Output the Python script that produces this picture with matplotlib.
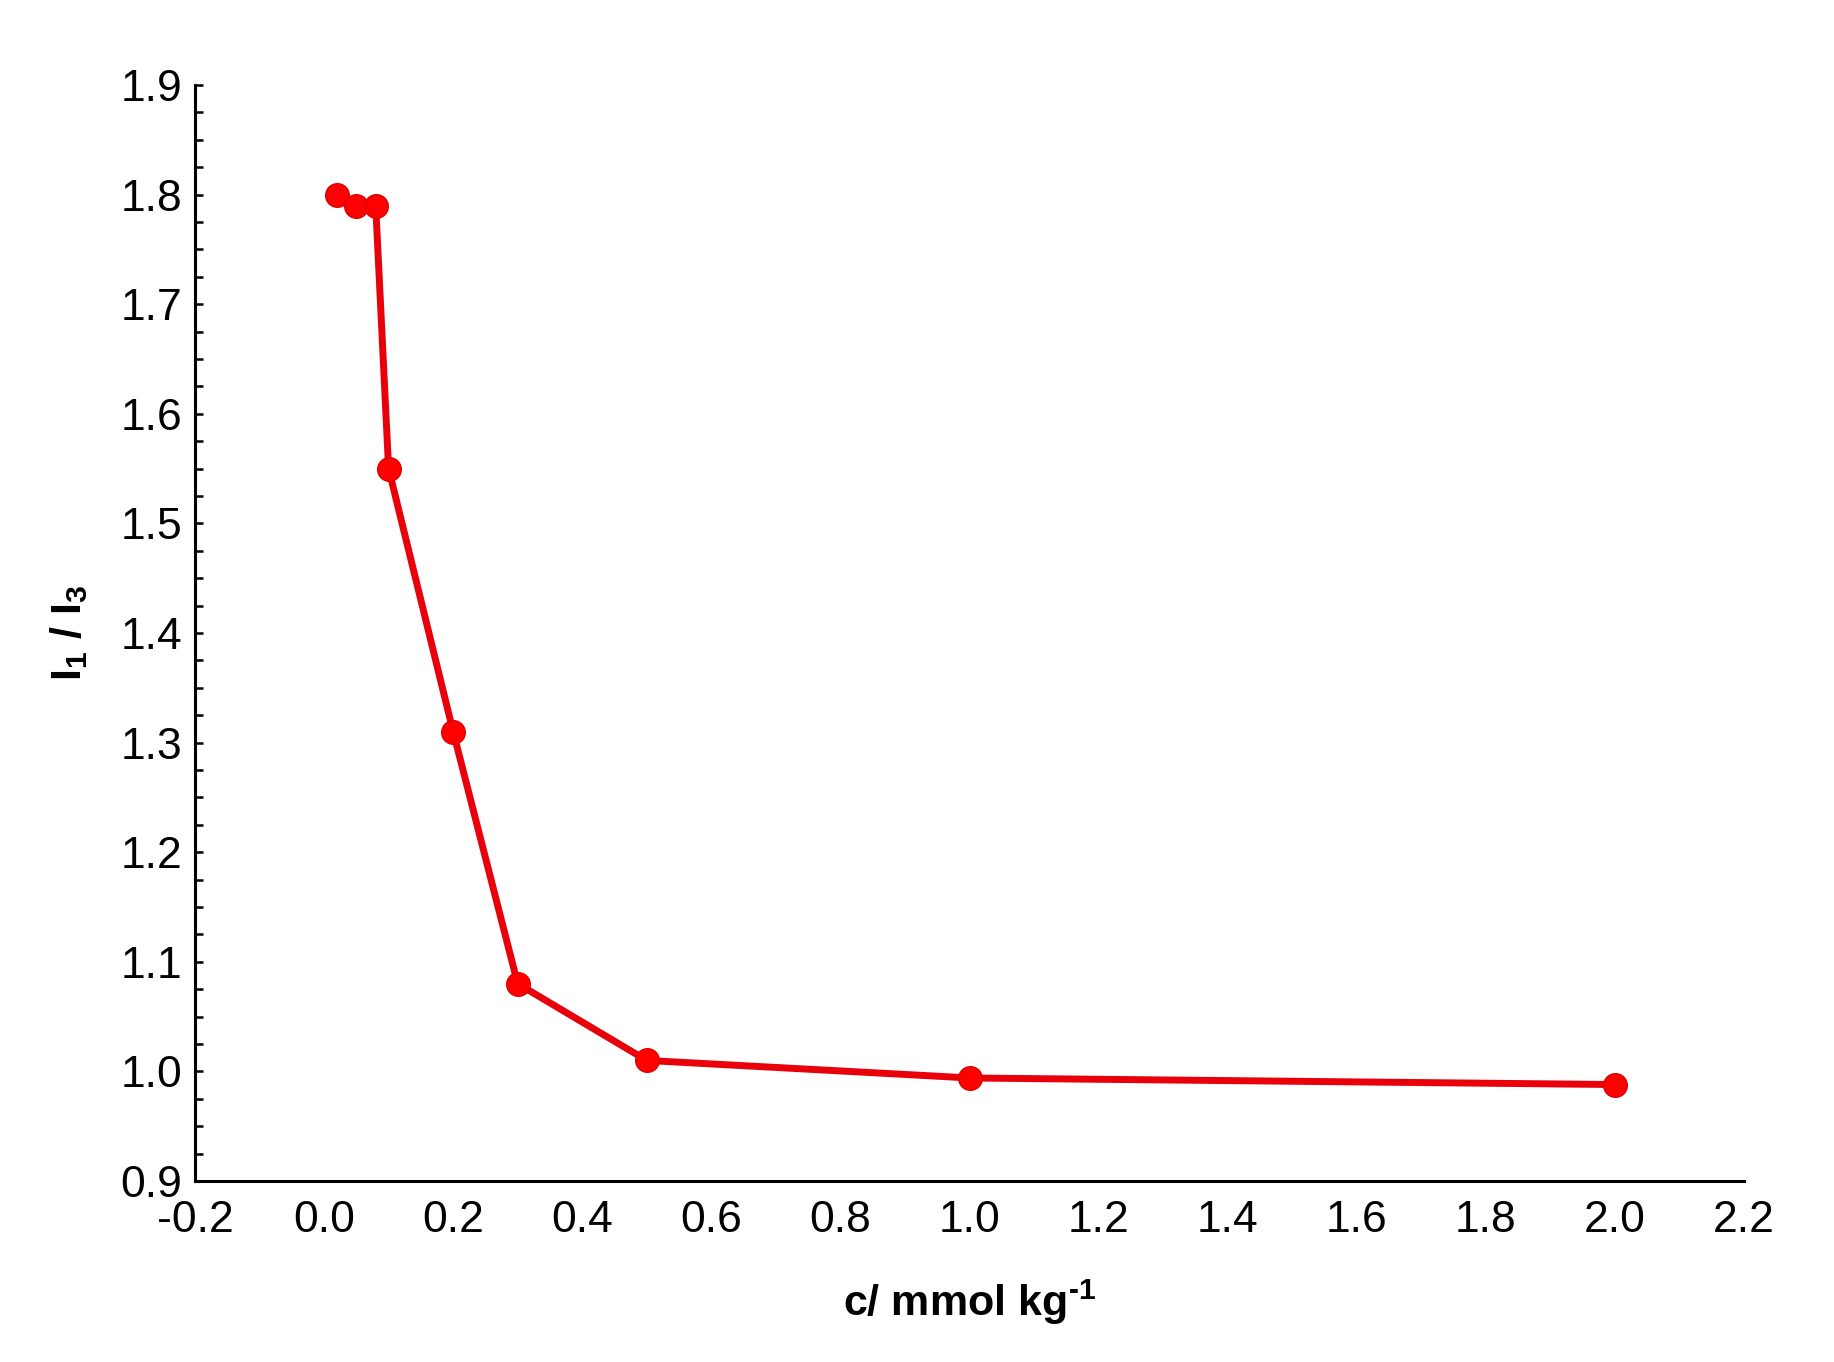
import matplotlib
matplotlib.use("Agg")
import matplotlib.pyplot as plt
import numpy as np

plt.rcParams['font.family'] = ['Liberation Sans', 'DejaVu Sans']
plt.rcParams['mathtext.fontset'] = 'custom'
plt.rcParams['mathtext.rm'] = 'Liberation Sans'
plt.rcParams['mathtext.bf'] = 'Liberation Sans:bold'
plt.rcParams['mathtext.it'] = 'Liberation Sans:italic'
plt.rcParams['axes.unicode_minus'] = False

conc = [0.02, 0.05, 0.08, 0.10, 0.20, 0.30, 0.50, 1.00, 2.00]
ratio = [1.80, 1.79, 1.79, 1.55, 1.31, 1.08, 1.01, 0.994, 0.988]
xticks = [-0.2, 0.0, 0.2, 0.4, 0.6, 0.8, 1.0, 1.2, 1.4, 1.6, 1.8, 2.0, 2.2]
yticks = [0.9, 1.0, 1.1, 1.2, 1.3, 1.4, 1.5, 1.6, 1.7, 1.8, 1.9]

fig = plt.figure(figsize=(18.34, 13.62), dpi=100)
ax = fig.add_axes([0.1063, 0.1329, 0.951 - 0.1063, 0.9376 - 0.1329])

ax.plot(conc, ratio, color='#e8000b', lw=5, marker='o', markersize=17,
        markerfacecolor='#ff0000', markeredgecolor='#e00000', markeredgewidth=1)

ax.set_xlim(-0.2, 2.2)
ax.set_ylim(0.9, 1.9)
ax.set_xticks(xticks)
ax.set_xticklabels([f"{v:.1f}" for v in xticks])
ax.set_yticks(yticks)
ax.set_yticklabels([f"{v:.1f}" for v in yticks])
ax.set_yticks(np.arange(0.9, 1.9001, 0.025), minor=True)

for s in ['top', 'right']:
    ax.spines[s].set_visible(False)
for s in ['left', 'bottom']:
    ax.spines[s].set_linewidth(2.2)
    ax.spines[s].set_color('black')

ax.tick_params(axis='x', which='both', length=0, labelsize=32, pad=14)
ax.tick_params(axis='y', which='major', direction='in', length=6, width=1.8,
               labelsize=32, pad=9)
ax.tick_params(axis='y', which='minor', direction='in', length=6, width=1.8)

ax.set_xlabel("c/ mmol kg$^{\\mathbf{\u2010}\\mathbf{1}}$", fontsize=31, fontweight='bold', labelpad=26)
ax.set_ylabel(r"I$_{\mathbf{1}}$ / I$_{\mathbf{3}}$", fontsize=31, fontweight='bold', labelpad=22)

fig.savefig("out.png", dpi=100, facecolor='white')
